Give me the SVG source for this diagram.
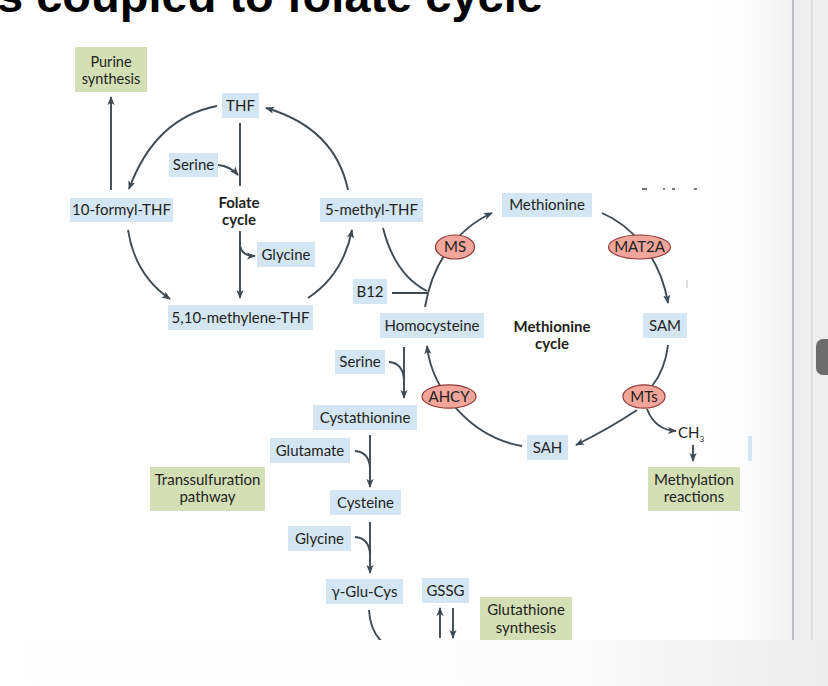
<svg xmlns="http://www.w3.org/2000/svg" width="828" height="686" viewBox="0 0 828 686">
<defs>
<style>
.b{fill:#d4e6f4}
.g{fill:#d5dfb5}
.e{fill:#f1a59b;stroke:#8e3b36;stroke-width:1.2}
.t{font-family:Lato,"Open Sans",sans-serif;font-size:15px;fill:#231f20;text-anchor:middle}
.s{font-size:14.5px}
.bd{font-weight:bold}
.c{fill:none;stroke:#3f4a52;stroke-width:1.9}
.a{marker-end:url(#ah)}
</style>
<marker id="ah" viewBox="0 0 10 10" refX="9" refY="5" markerWidth="9" markerHeight="9" markerUnits="userSpaceOnUse" orient="auto">
<path d="M0,1 L10,5 L0,9 L2.5,5 z" fill="#3f4a52"/>
</marker>
<clipPath id="cp"><rect x="0" y="0" width="792" height="640"/></clipPath>
<linearGradient id="gr" x1="0" y1="0" x2="1" y2="0">
<stop offset="0" stop-color="#ffffff" stop-opacity="0"/>
<stop offset="1" stop-color="#f1f1f1"/>
</linearGradient>
<linearGradient id="gb" x1="0" y1="0" x2="1" y2="0">
<stop offset="0" stop-color="#ffffff"/>
<stop offset="0.7" stop-color="#fbfbfb"/>
<stop offset="1" stop-color="#ececec"/>
</linearGradient>
</defs>
<rect x="0" y="0" width="828" height="686" fill="#ffffff"/>
<rect x="700" y="0" width="93" height="640" fill="url(#gr)"/>
<rect x="0" y="640" width="828" height="46" fill="url(#gb)"/>
<g id="scrollbar">
<rect x="794" y="0" width="34" height="640" fill="#eeeeee"/>
<rect x="792" y="0" width="2" height="640" fill="#bdbdc5"/>
<rect x="811" y="0" width="1.5" height="640" fill="#d9d9d9"/>
<rect x="816" y="339" width="20" height="36" rx="7" fill="#6c6c6c"/>
</g>
<text x="-3" y="12" font-family="'Liberation Sans',Arial,sans-serif" font-weight="bold" font-size="47" fill="#000">s coupled to folate cycle</text>
<g clip-path="url(#cp)">
<g id="connectors">
<path class="c a" d="M217,106 Q155,118 129,189"/>
<path class="c a" d="M128,230 Q135,275 170,299"/>
<path class="c a" d="M308,298 Q343,275 352,230"/>
<path class="c a" d="M348,190 Q335,128 266,108"/>
<path class="c" d="M240,123 L240,186"/>
<path class="c a" d="M240,231 L240,298"/>
<path class="c a" d="M218,165 Q230,166 238,175"/>
<path class="c a" d="M240,246 Q242,256 255,256"/>
<path class="c a" d="M111,190 L111,97"/>
<path class="c" d="M383,228 Q395,275 427,291"/>
<path class="c" d="M392,293 L427,293"/>
<path class="c a" d="M425,307 C432,265 455,230 492,213"/>
<path class="c a" d="M602,213 C630,225 660,255 668,303"/>
<path class="c" d="M668,345 Q665,370 652,386"/>
<path class="c a" d="M637,410 Q610,428 576,445"/>
<path class="c a" d="M647,409 Q655,430 676,431"/>
<path class="c a" d="M693,445 L693,461"/>
<path class="c a" d="M522,446 C470,437 432,390 427,346"/>
<path class="c a" d="M404,347 L404,398"/>
<path class="c" d="M389,362 Q403,363 404,380"/>
<path class="c a" d="M370,435 L370,487"/>
<path class="c" d="M355,451 Q369,452 370,468"/>
<path class="c a" d="M370,522 L370,573"/>
<path class="c" d="M355,537 Q369,538 370,554"/>
<path class="c" d="M369,610 Q370,630 382,642"/>
<path class="c a" d="M440,638 L440,608"/>
<path class="c a" d="M453,608 L453,638"/>
</g>
<g id="purine"><rect class="g" x="75" y="47" width="72" height="45"/><text class="t s" x="111" y="67">Purine</text><text class="t s" x="111" y="84">synthesis</text></g>
<g id="thf"><rect class="b" x="222" y="93" width="37" height="25"/><text class="t" x="240.5" y="111">THF</text></g>
<g id="serine1"><rect class="b" x="169" y="153" width="49" height="24"/><text class="t" x="193.5" y="170">Serine</text></g>
<g id="formylthf"><rect class="b" x="70" y="198" width="103" height="24"/><text class="t" x="121.5" y="215">10-formyl-THF</text></g>
<g id="folatecycle"><text class="t bd" x="239" y="208">Folate</text><text class="t bd" x="239" y="225">cycle</text></g>
<g id="glycine1"><rect class="b" x="257" y="242" width="58" height="25"/><text class="t" x="286" y="259.5">Glycine</text></g>
<g id="methylenethf"><rect class="b" x="168" y="305" width="145" height="25"/><text class="t" x="240.5" y="322.5">5,10-methylene-THF</text></g>
<g id="methylthf"><rect class="b" x="320" y="198" width="103" height="24"/><text class="t" x="371.5" y="215">5-methyl-THF</text></g>
<g id="b12"><rect class="b" x="353" y="279" width="34" height="25"/><text class="t" x="370" y="296.5">B12</text></g>
<g id="methionine"><rect class="b" x="502" y="193" width="90" height="24"/><text class="t" x="547" y="210">Methionine</text></g>
<g id="ms"><ellipse class="e" cx="455" cy="247" rx="19.5" ry="12"/><text class="t" x="455" y="252">MS</text></g>
<g id="mat2a"><ellipse class="e" cx="639.5" cy="247" rx="31" ry="12"/><text class="t" x="639.5" y="252">MAT2A</text></g>
<g id="homocysteine"><rect class="b" x="380" y="313" width="104" height="25"/><text class="t" x="432" y="330.5">Homocysteine</text></g>
<g id="methioninecycle"><text class="t bd" x="552" y="332">Methionine</text><text class="t bd" x="552" y="349">cycle</text></g>
<g id="sam"><rect class="b" x="643" y="313" width="44" height="25"/><text class="t" x="665" y="330.5">SAM</text></g>
<g id="serine2"><rect class="b" x="335" y="350" width="50" height="24"/><text class="t" x="360" y="367">Serine</text></g>
<g id="ahcy"><ellipse class="e" cx="449" cy="396.5" rx="27" ry="11.7"/><text class="t" x="449" y="401.5">AHCY</text></g>
<g id="mts"><ellipse class="e" cx="644" cy="396.5" rx="21" ry="11.7"/><text class="t" x="644" y="401.5">MTs</text></g>
<g id="cystathionine"><rect class="b" x="313" y="405" width="104" height="25"/><text class="t" x="365" y="422.5">Cystathionine</text></g>
<g id="sah"><rect class="b" x="527" y="435" width="41" height="25"/><text class="t" x="547.5" y="452.5">SAH</text></g>
<g id="ch3"><text class="t" x="678" y="438" style="text-anchor:start">CH<tspan font-size="8" dy="4">3</tspan></text></g>
<g id="glutamate"><rect class="b" x="270" y="438" width="80" height="25"/><text class="t" x="310" y="455.5">Glutamate</text></g>
<g id="transsulfuration"><rect class="g" x="150" y="467" width="115" height="44"/><text class="t" x="207.5" y="485">Transsulfuration</text><text class="t" x="207.5" y="502">pathway</text></g>
<g id="methylation"><rect class="g" x="648" y="467" width="92" height="44"/><text class="t" x="694" y="485">Methylation</text><text class="t" x="694" y="502">reactions</text></g>
<g id="cysteine"><rect class="b" x="330" y="490" width="71" height="25"/><text class="t" x="365.5" y="507.5">Cysteine</text></g>
<g id="glycine2"><rect class="b" x="288" y="526" width="63" height="25"/><text class="t" x="319.5" y="543.5">Glycine</text></g>
<g id="gglucys"><rect class="b" x="326" y="579" width="77" height="25"/><text class="t" x="364.5" y="596.5">γ-Glu-Cys</text></g>
<g id="gssg"><rect class="b" x="422" y="578" width="47" height="25"/><text class="t" x="445.5" y="595.5">GSSG</text></g>
<g id="glutathione"><rect class="g" x="480" y="597" width="92" height="48"/><text class="t" x="526" y="615">Glutathione</text><text class="t" x="526" y="633">synthesis</text></g>
<rect x="748" y="436" width="4" height="25" fill="#d4e6f4"/>
<path d="M687,280 V288" stroke="#c8c8c8" stroke-width="1.2"/>
<path d="M642,189 H647 M663,189 H665 M672,189 H675 M694,189 H697" stroke="#3f4a52" stroke-width="1.5"/>
</g>
</svg>
